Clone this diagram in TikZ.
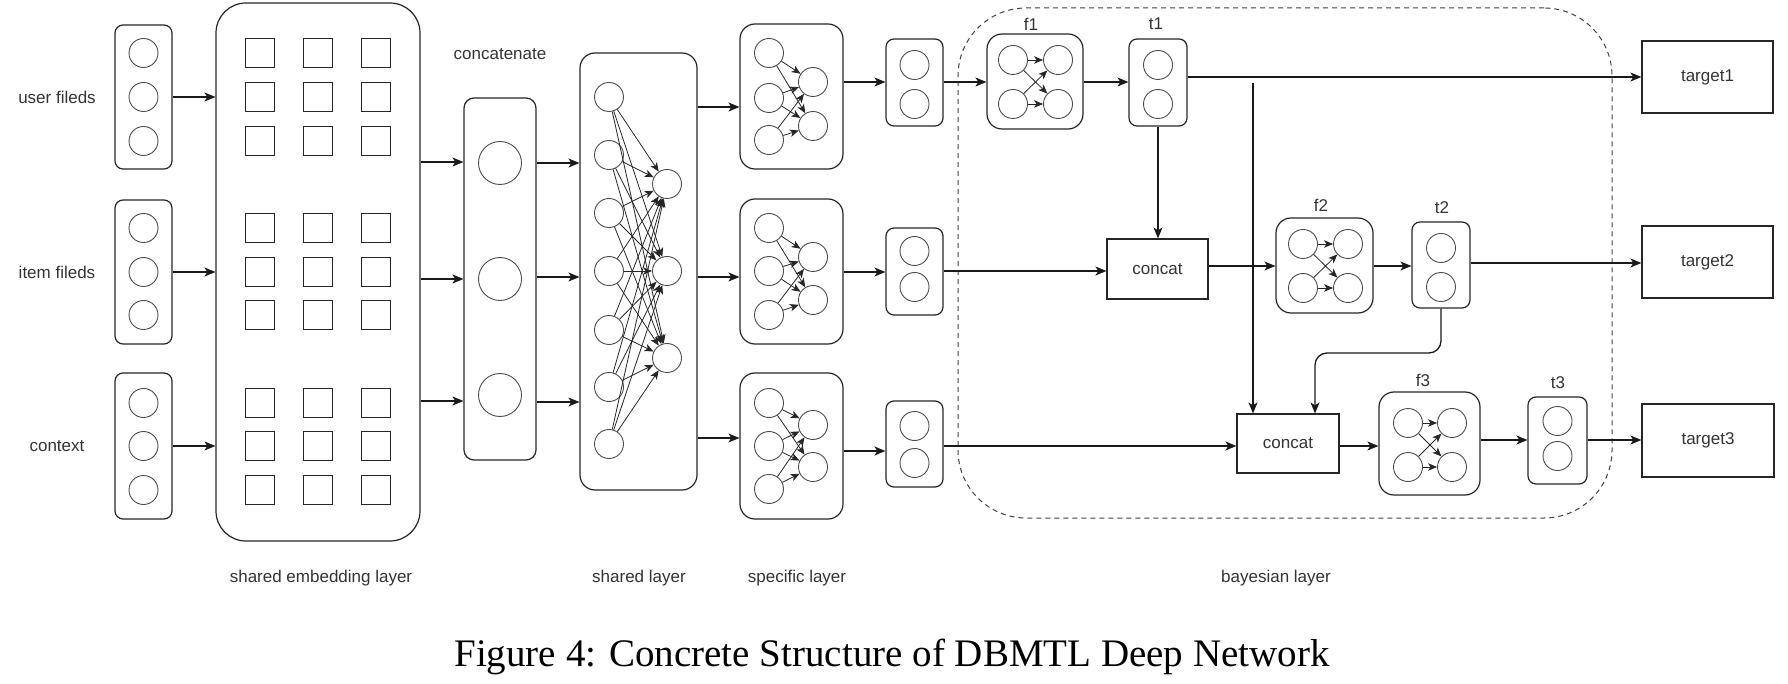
\documentclass[tikz,border=0pt]{standalone}
\usepackage{fontspec}
\setmainfont{Liberation Serif}
\newfontfamily\labfont{Liberation Sans}
\usetikzlibrary{arrows.meta}
\begin{document}
\begin{tikzpicture}[x=1pt,y=-1pt,
  sz/.style 2 args={minimum width=#1pt, minimum height=#2pt},
  rbox/.style={draw=black!85, line width=1.2pt, rectangle, rounded corners=#1, inner sep=0pt},
  rbox/.default=8pt,
  plainbox/.style={draw=black!85, line width=1.2pt, rectangle, inner sep=0pt, font=\labfont\fontsize{17}{20}\selectfont, text=black!80},
  neuron/.style={draw=black!70, line width=0.9pt, circle, minimum size=29pt, inner sep=0pt},
  bigneuron/.style={neuron, minimum size=43pt},
  sqr/.style={draw=black!85, line width=1.2pt, rectangle, minimum width=29pt, minimum height=29pt, inner sep=0pt},
  arr/.style={draw=black!90, line width=1.3pt, -{Stealth[length=11pt, width=9pt, inset=3pt]}},
  narr/.style={draw=black!85, line width=0.8pt, -{Stealth[length=9pt, width=7.5pt, inset=2.5pt]}},
  lbl/.style={font=\labfont\fontsize{17}{20}\selectfont, text=black!80, inner sep=0pt},
  dashbox/.style={draw=black!75, line width=1pt, dash pattern=on 5pt off 4pt, rounded corners=68pt, rectangle, inner sep=0pt}
]
\useasboundingbox (0,0) rectangle (1788,684);

% ---------- input boxes ----------
\node[rbox, sz={57}{144}] (inU) at (143.5,97) {};
\node[rbox, sz={57}{144}] (inI) at (143.5,272) {};
\node[rbox, sz={57}{146}] (inC) at (143.5,446) {};
\foreach \y [count=\i] in {53,97,141} \node[neuron] (u\i) at (143.5,\y) {};
\foreach \y [count=\i] in {228,272,315} \node[neuron] (it\i) at (143.5,\y) {};
\foreach \y [count=\i] in {403,446,490} \node[neuron] (cx\i) at (143.5,\y) {};
\node[lbl] (lu) at (57,97) {user fileds};
\node[lbl] (li) at (57,272) {item fileds};
\node[lbl] (lc) at (57,446) {context};

% ---------- shared embedding layer ----------
\node[rbox=30pt, sz={204}{538}] (emb) at (318,272) {};
\foreach \y [count=\r] in {53,97,141,228,272,315,403,446,490}
  \foreach \x [count=\c] in {260,318,376}
    \node[sqr] (sq\r\c) at (\x,\y) {};
\draw[arr] (inU.east) -- (inU.east -| emb.west);
\draw[arr] (inI.east) -- (inI.east -| emb.west);
\draw[arr] (inC.east) -- (inC.east -| emb.west);

% ---------- concatenate ----------
\node[lbl] (lcat) at (500,54) {concatenate};
\node[rbox=10pt, sz={72}{362}] (cat) at (500,279) {};
\foreach \y [count=\i] in {163,279,395} \node[bigneuron] (cc\i) at (500,\y) {};
\foreach \y/\n in {162/1,279/2,401/3} {
  \coordinate (ea\n) at (0,\y);
  \draw[arr] (emb.east |- ea\n) -- (cat.west |- ea\n);
}

% ---------- shared layer ----------
\node[rbox=15pt, sz={117}{437}] (sh) at (638.5,271.5) {};
\foreach \y [count=\i] in {97,155,213,271,330,387,444} \node[neuron] (sl\i) at (609,\y) {};
\foreach \y [count=\i] in {184,271,358} \node[neuron] (sr\i) at (667,\y) {};
\foreach \i in {1,...,7} \foreach \j in {1,2,3} \draw[narr] (sl\i) -- (sr\j);
\foreach \y/\n in {163/1,277/2,402/3} {
  \coordinate (eb\n) at (0,\y);
  \draw[arr] (cat.east |- eb\n) -- (sh.west |- eb\n);
}

% ---------- specific layer ----------
\node[rbox=15pt, sz={103}{145}] (sp1) at (791.5,96.5) {};
\node[rbox=15pt, sz={103}{145}] (sp2) at (791.5,271.5) {};
\node[rbox=15pt, sz={103}{146}] (sp3) at (791.5,446) {};
\foreach \a/\b/\c/\d/\e [count=\k] in {53/98/140/82/126, 228/271/315/257/300, 403/446/489/425/467} {
  \node[neuron] (p\k l1) at (769,\a) {};
  \node[neuron] (p\k l2) at (769,\b) {};
  \node[neuron] (p\k l3) at (769,\c) {};
  \node[neuron] (p\k r1) at (813,\d) {};
  \node[neuron] (p\k r2) at (813,\e) {};
  \foreach \i in {1,2,3} \foreach \j in {1,2} \draw[narr] (p\k l\i) -- (p\k r\j);
}
\foreach \y/\n in {107/1,277/2,438/3} {
  \coordinate (ec\n) at (0,\y);
  \draw[arr] (sh.east |- ec\n) -- (sp\n.west |- ec\n);
}

% ---------- small boxes ----------
\node[rbox, sz={57}{87}] (sm1) at (914.5,82.5) {};
\node[rbox, sz={57}{87}] (sm2) at (914.5,271.5) {};
\node[rbox, sz={57}{86}] (sm3) at (914.5,444) {};
\foreach \a/\b [count=\k] in {65/104, 251/287, 426/463} {
  \node[neuron] (m\k a) at (914.5,\a) {};
  \node[neuron] (m\k b) at (914.5,\b) {};
}
\foreach \y/\n in {82/1,272/2,451/3} {
  \coordinate (ed\n) at (0,\y);
  \draw[arr] (sp\n.east |- ed\n) -- (sm\n.west |- ed\n);
}

% ---------- bayesian layer ----------
\node[dashbox, sz={654}{510}] (bay) at (1285,263) {};

% f1, t1
\node[lbl] (lf1) at (1031,24) {f1};
\node[rbox=15pt, sz={96}{95}] (f1) at (1035,81.5) {};
\node[neuron] (f1a) at (1013,60) {};
\node[neuron] (f1b) at (1058,60) {};
\node[neuron] (f1c) at (1013,104) {};
\node[neuron] (f1d) at (1058,104) {};
\foreach \s in {f1a,f1c} \foreach \t in {f1b,f1d} \draw[narr] (\s) -- (\t);
\node[lbl] (lt1) at (1156,24) {t1};
\node[rbox, sz={58}{87}] (t1) at (1158,82.5) {};
\node[neuron] (t1a) at (1158,65) {};
\node[neuron] (t1b) at (1158,104) {};
\node[plainbox, sz={131}{72}] (tg1) at (1707.5,77) {target1};

\coordinate (e1) at (0,82);
\draw[arr] (sm1.east |- e1) -- (f1.west |- e1);
\draw[arr] (f1.east |- e1) -- (t1.west |- e1);
\coordinate (e2) at (0,77);
\draw[arr] (t1.east |- e2) -- (tg1.west |- e2);

% concat 2, f2, t2
\node[plainbox, sz={101}{60}] (c2) at (1157.5,269) {concat};
\draw[arr] (t1.south) -- (t1.south |- c2.north);
\coordinate (e3) at (0,271);
\draw[arr] (sm2.east |- e3) -- (c2.west |- e3);

\node[lbl] (lf2) at (1321,205) {f2};
\node[rbox=15pt, sz={97}{95}] (f2) at (1324.5,265.5) {};
\node[neuron] (f2a) at (1303,244) {};
\node[neuron] (f2b) at (1348,244) {};
\node[neuron] (f2c) at (1303,288) {};
\node[neuron] (f2d) at (1348,288) {};
\foreach \s in {f2a,f2c} \foreach \t in {f2b,f2d} \draw[narr] (\s) -- (\t);
\node[lbl] (lt2) at (1442,208) {t2};
\node[rbox, sz={58}{86}] (t2) at (1441,265) {};
\node[neuron] (t2a) at (1441,248) {};
\node[neuron] (t2b) at (1441,287) {};
\node[plainbox, sz={131}{72}] (tg2) at (1707.5,262) {target2};

\coordinate (e4) at (0,266);
\draw[arr] (c2.east |- e4) -- (f2.west |- e4);
\draw[arr] (f2.east |- e4) -- (t2.west |- e4);
\coordinate (e5) at (0,263);
\draw[arr] (t2.east |- e5) -- (tg2.west |- e5);

% concat 3, f3, t3
\node[plainbox, sz={102}{59}] (c3) at (1288,443.5) {concat};
\coordinate (br) at (1253,83);
\draw[arr] (br) -- (br |- c3.north);
\coordinate (bend) at (1315,353);
\draw[arr, rounded corners=12pt] (t2.south) |- (bend) -- (bend |- c3.north);
\coordinate (e6) at (0,446);
\draw[arr] (sm3.east |- e6) -- (c3.west |- e6);

\node[lbl] (lf3) at (1423,380) {f3};
\node[rbox=15pt, sz={101}{103}] (f3) at (1429.5,443.5) {};
\node[neuron] (f3a) at (1408,423) {};
\node[neuron] (f3b) at (1452,423) {};
\node[neuron] (f3c) at (1408,467) {};
\node[neuron] (f3d) at (1452,467) {};
\foreach \s in {f3a,f3c} \foreach \t in {f3b,f3d} \draw[narr] (\s) -- (\t);
\node[lbl] (lt3) at (1558,383) {t3};
\node[rbox, sz={59}{87}] (t3) at (1557.5,440.5) {};
\node[neuron] (t3a) at (1557.5,421) {};
\node[neuron] (t3b) at (1557.5,456) {};
\node[plainbox, sz={132}{73}] (tg3) at (1708,440.5) {target3};

\draw[arr] (c3.east |- e6) -- (f3.west |- e6);
\coordinate (e7) at (0,440);
\draw[arr] (f3.east |- e7) -- (t3.west |- e7);
\draw[arr] (t3.east |- e7) -- (tg3.west |- e7);

% ---------- layer labels ----------
\node[lbl] (l1) at (321,578) {shared embedding layer};
\node[lbl] (l2) at (639,578) {shared layer};
\node[lbl] (l3) at (797,578) {specific layer};
\node[lbl] (l4) at (1276,578) {bayesian layer};

% ---------- caption ----------
\node[font=\fontsize{39}{47}\selectfont, inner sep=0pt] (cap) at (892,657) {Figure 4: Concrete Structure of DBMTL Deep Network};
\end{tikzpicture}
\end{document}
